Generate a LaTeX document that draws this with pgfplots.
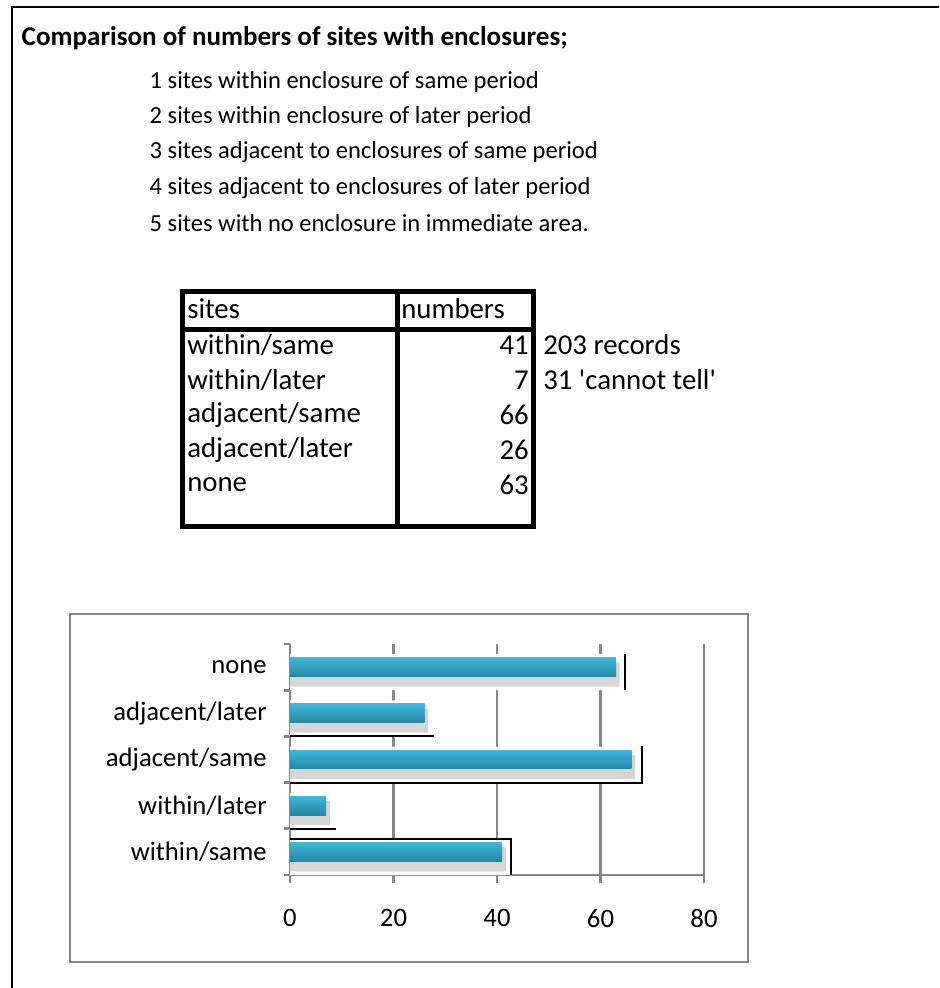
\documentclass[border=0pt]{standalone}
\usepackage{fontspec}
\setmainfont{Carlito}
\usepackage{pgfplots}
\pgfplotsset{compat=1.18}

\definecolor{axgray}{RGB}{134,134,134}
\definecolor{bartop}{RGB}{60,184,220}
\definecolor{barbot}{RGB}{38,134,162}
\definecolor{shade}{RGB}{214,214,214}

\begin{document}
\begin{tikzpicture}[x=0.75pt,y=-0.75pt]
\useasboundingbox (0,0) rectangle (939,988);

% sheet frame
\draw[line width=2.2pt] (12,988) -- (12,7) -- (939,7);

% heading and key
\node[anchor=west, font=\fontsize{20.3}{24}\selectfont\bfseries] at (17,38)
  {Comparison of numbers of sites with enclosures;};
\begin{scope}[every node/.style={anchor=west, font=\fontsize{18.4}{22}\selectfont}]
\node at (145,82)  {1 sites within enclosure of same period};
\node at (145,117) {2 sites within enclosure of later period};
\node at (145,152) {3 sites adjacent to enclosures of same period};
\node at (145,188) {4 sites adjacent to enclosures of later period};
\node at (145,223) {5 sites with no enclosure in immediate area.};
\end{scope}

% summary table
\draw[line width=3.75pt] (182.5,291.5) rectangle (533.5,526);
\draw[line width=3.75pt] (397,291.5) -- (397,526);
\draw[line width=3.75pt] (182.5,329) -- (533.5,329);
\begin{scope}[every node/.style={font=\fontsize{21.6}{26}\selectfont, inner sep=0pt}]
\node[anchor=west] at (187,309) {sites};
\node[anchor=west] at (401,309) {numbers};
\node[anchor=west] at (187,345) {within/same};
\node[anchor=west] at (187,380) {within/later};
\node[anchor=west] at (187,415) {adjacent/same};
\node[anchor=west] at (187,450) {adjacent/later};
\node[anchor=west] at (187,485) {none};
\node[anchor=east] at (529,345) {41};
\node[anchor=east] at (529,380) {7};
\node[anchor=east] at (529,415) {66};
\node[anchor=east] at (529,450) {26};
\node[anchor=east] at (529,485) {63};
\node[anchor=west] at (543,345) {203 records};
\node[anchor=west] at (543,380) {31 \textquotesingle cannot tell\textquotesingle};
\end{scope}

% chart frame
\draw[axgray, line width=2pt] (70,614) rectangle (748,962);

\begin{axis}[
  at={(217.5pt,-656.25pt)}, anchor=south west,
  scale only axis, width=310.5pt, height=173.25pt,
  xmin=0, xmax=80, ymin=0.5, ymax=5.5,
  axis x line=bottom, axis y line=left,
  axis line style={axgray, line width=2pt, -},
  xtick={0,20,...,80},
  ytick={1,...,5},
  yticklabels={within/same, within/later, adjacent/same, adjacent/later, none},
  minor ytick={0.5,1.5,...,5.5},
  tick align=outside,
  x tick style={axgray, line width=2pt},
  major x tick style={axgray, line width=2pt},
  major tick length=6pt,
  minor tick length=4.5pt,
  y tick style={draw=none},
  minor y tick style={axgray, line width=2pt, draw=axgray},
  xmajorgrids,
  grid style={axgray, line width=2pt},
  /pgf/number format/assume math mode=true,
  tick label style={font=\fontsize{20}{24}\selectfont},
  xticklabel style={yshift=-16pt},
  yticklabel style={xshift=-8pt},
]
% white backing of each bar
\addplot[xbar, bar width=0.78, bar shift=-0.11, fill=white, draw=none]
  coordinates {(42.7,1) (8.9,2) (68.0,3) (27.8,4) (64.7,5)};
% soft shadow under each bar
\addplot[xbar, bar width=0.52, bar shift=-0.16, fill=shade, draw=none]
  coordinates {(41.7,1) (7.7,2) (66.7,3) (26.7,4) (63.7,5)};
% the counts
\addplot[xbar, bar width=0.41, bar shift=0, draw=none, top color=bartop, bottom color=barbot]
  coordinates {(41,1)};
\addplot[xbar, bar width=0.41, bar shift=0, draw=none, top color=bartop, bottom color=barbot]
  coordinates {(7,2)};
\addplot[xbar, bar width=0.41, bar shift=0, draw=none, top color=bartop, bottom color=barbot]
  coordinates {(66,3)};
\addplot[xbar, bar width=0.41, bar shift=0, draw=none, top color=bartop, bottom color=barbot]
  coordinates {(26,4)};
\addplot[xbar, bar width=0.41, bar shift=0, draw=none, top color=bartop, bottom color=barbot]
  coordinates {(63,5)};
% outline fragments of the bar depth boxes
\draw[line width=1.5pt] (axis cs:0,1.28) -- (axis cs:42.7,1.28) -- (axis cs:42.7,0.5);
\draw[line width=1.5pt] (axis cs:0,1.5) -- (axis cs:8.9,1.5);
\draw[line width=1.5pt] (axis cs:68.0,3.3) -- (axis cs:68.0,2.5) -- (axis cs:0,2.5);
\draw[line width=1.5pt] (axis cs:0,3.5) -- (axis cs:27.8,3.5);
\draw[line width=1.5pt] (axis cs:64.7,4.5) -- (axis cs:64.7,5.28);
\end{axis}
\end{tikzpicture}
\end{document}
